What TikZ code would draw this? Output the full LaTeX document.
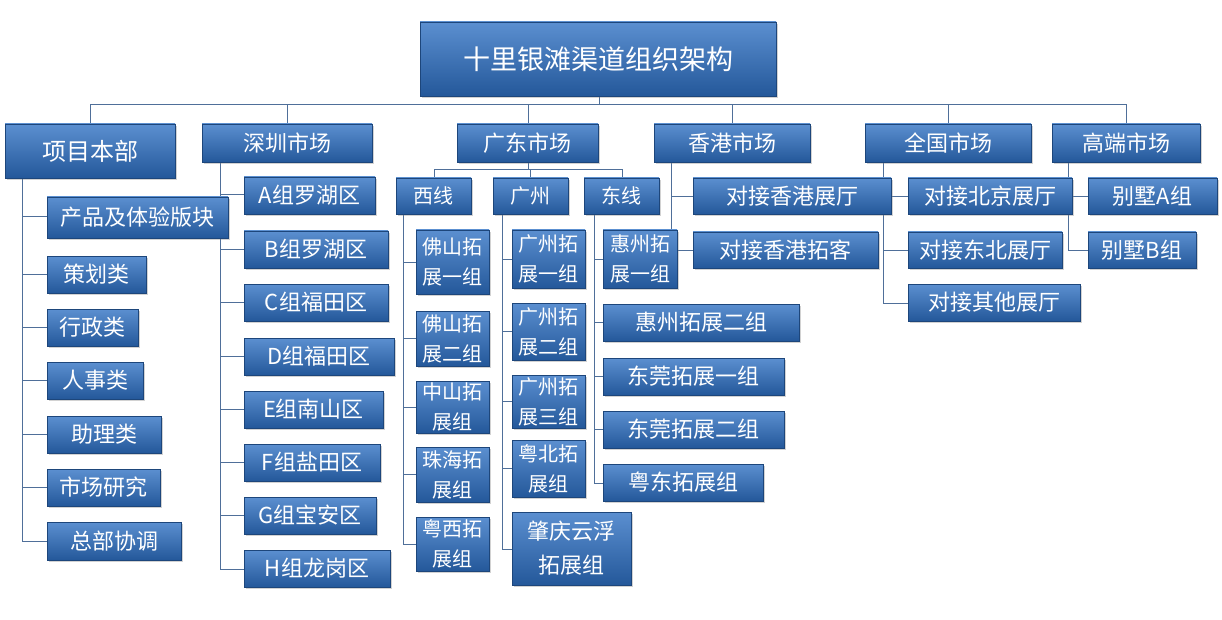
\documentclass[tikz,border=0pt]{standalone}
\usepackage{fontspec}
\setmainfont{Noto Sans CJK SC}
\usetikzlibrary{shadows}
\definecolor{bt}{HTML}{5B8FD0}
\definecolor{bb}{HTML}{24589A}
\definecolor{ln}{HTML}{4F6F99}
\tikzset{
  box/.style={rectangle,top color=bt,bottom color=bb,draw=bb!80!black,line width=0.3pt,
    text=white,inner sep=0pt,align=center,font=\fontsize{22}{26}\selectfont,
    drop shadow={shadow xshift=2pt,shadow yshift=-2pt,opacity=0.35}},
  small/.style={font=\fontsize{20}{30}\selectfont},
  big/.style={font=\fontsize{27}{30}\selectfont},
  conn/.style={draw=ln,line width=1pt}
}
\newcommand\B[7][]{\node[box,#1,minimum width={#5pt-#3pt},minimum height={#6pt-#4pt}] (#2) at ({(#3+#5)/2},{(#4+#6)/2}) {#7};}
\begin{document}
\begin{tikzpicture}[x=1pt,y=-1pt]
\useasboundingbox (0,0) rectangle (1222,620);
\fill[white] (0,0) rectangle (1222,620);
\coordinate (tb) at (599,105);
\coordinate (gb) at (528,170);
\begin{scope}[conn]
\draw (599,96) -- (tb);
\draw (tb) -| (90,124);
\draw (tb) -| (287,124);
\draw (tb) -| (528,124);
\draw (tb) -| (732,124);
\draw (tb) -| (948,124);
\draw (tb) -| (1126,124);
\draw (528,162) -- (gb);
\draw (gb) -| (434,178);
\draw (gb) -| (530,178);
\draw (gb) -| (622,178);
\draw (22,178) -- (22,541);
\draw (220,162) -- (220,569);
\draw (403,214) -- (403,545);
\draw (502,214) -- (502,549);
\draw (594,214) -- (594,483);
\draw (671,162) -- (671,250);
\draw (883,162) -- (883,303);
\draw (1068,162) -- (1068,250);
\foreach \y in {217,274,327,380,434,487,541} \draw (22,\y) -- (47,\y);
\foreach \y in {195,249,302,356,409,462,515,569} \draw (220,\y) -- (244,\y);
\foreach \y in {262,338,407,474,544} \draw (403,\y) -- (416,\y);
\foreach \y in {259,331,401,468,549} \draw (502,\y) -- (512,\y);
\foreach \y in {259,322,376,429,483} \draw (594,\y) -- (603,\y);
\draw (671,197) -- (693,197);
\draw (671,250) -- (693,250);
\draw (883,197) -- (908,197);
\draw (883,250) -- (908,250);
\draw (883,303) -- (908,303);
\draw (1068,197) -- (1088,197);
\draw (1068,250) -- (1088,250);
\end{scope}
\B[big]{title}{420}{22}{776}{96}{十里银滩渠道组织架构}
\B[font=\fontsize{24}{26}\selectfont]{pm}{5}{124}{175}{178}{项目本部}
\B{sz}{202}{124}{372}{162}{深圳市场}
\B{gd}{457}{124}{598}{162}{广东市场}
\B{hk}{654}{124}{810}{162}{香港市场}
\B{qg}{865}{124}{1031}{162}{全国市场}
\B{gdd}{1052}{124}{1200}{162}{高端市场}
\B{p1}{47}{197}{228}{238}{产品及体验版块}
\B{p2}{47}{256}{146}{293}{策划类}
\B{p3}{47}{309}{138}{346}{行政类}
\B{p4}{47}{362}{143}{399}{人事类}
\B{p5}{47}{416}{161}{453}{助理类}
\B{p6}{47}{469}{160}{506}{市场研究}
\B{p7}{47}{522}{181}{560}{总部协调}
\B{s1}{244}{177}{375}{214}{A组罗湖区}
\B{s2}{244}{231}{388}{268}{B组罗湖区}
\B{s3}{244}{284}{388}{321}{C组福田区}
\B{s4}{244}{338}{394}{375}{D组福田区}
\B{s5}{244}{391}{383}{428}{E组南山区}
\B{s6}{244}{444}{380}{481}{F组盐田区}
\B{s7}{244}{497}{376}{534}{G组宝安区}
\B{s8}{244}{550}{390}{587}{H组龙岗区}
\B[small]{xx}{396}{178}{471}{214}{西线}
\B[small]{gz}{493}{178}{568}{214}{广州}
\B[small]{dx}{584}{178}{659}{214}{东线}
\B[small]{x1}{416}{230}{489}{294}{佛山拓\\展一组}
\B[small]{x2}{416}{311}{489}{366}{佛山拓\\展二组}
\B[small]{x3}{416}{381}{489}{433}{中山拓\\展组}
\B[small]{x4}{416}{447}{489}{502}{珠海拓\\展组}
\B[small]{x5}{416}{517}{489}{571}{粤西拓\\展组}
\B[small]{g1}{512}{230}{585}{288}{广州拓\\展一组}
\B[small]{g2}{512}{303}{585}{360}{广州拓\\展二组}
\B[small]{g3}{512}{375}{585}{428}{广州拓\\展三组}
\B[small]{g4}{512}{440}{585}{497}{粤北拓\\展组}
\B[font=\fontsize{22}{34}\selectfont]{g5}{512}{512}{631}{585}{肇庆云浮\\拓展组}
\B[small]{d1}{603}{230}{677}{288}{惠州拓\\展一组}
\B{d2}{603}{304}{799}{341}{惠州拓展二组}
\B{d3}{603}{358}{784}{395}{东莞拓展一组}
\B{d4}{603}{411}{784}{448}{东莞拓展二组}
\B{d5}{603}{464}{763}{501}{粤东拓展组}
\B{h1}{693}{178}{891}{214}{对接香港展厅}
\B{h2}{693}{232}{878}{268}{对接香港拓客}
\B{q1}{908}{178}{1072}{214}{对接北京展厅}
\B{q2}{908}{232}{1062}{268}{对接东北展厅}
\B{q3}{908}{284}{1080}{321}{对接其他展厅}
\B{b1}{1088}{178}{1217}{214}{别墅A组}
\B{b2}{1088}{232}{1196}{268}{别墅B组}
\end{tikzpicture}
\end{document}
